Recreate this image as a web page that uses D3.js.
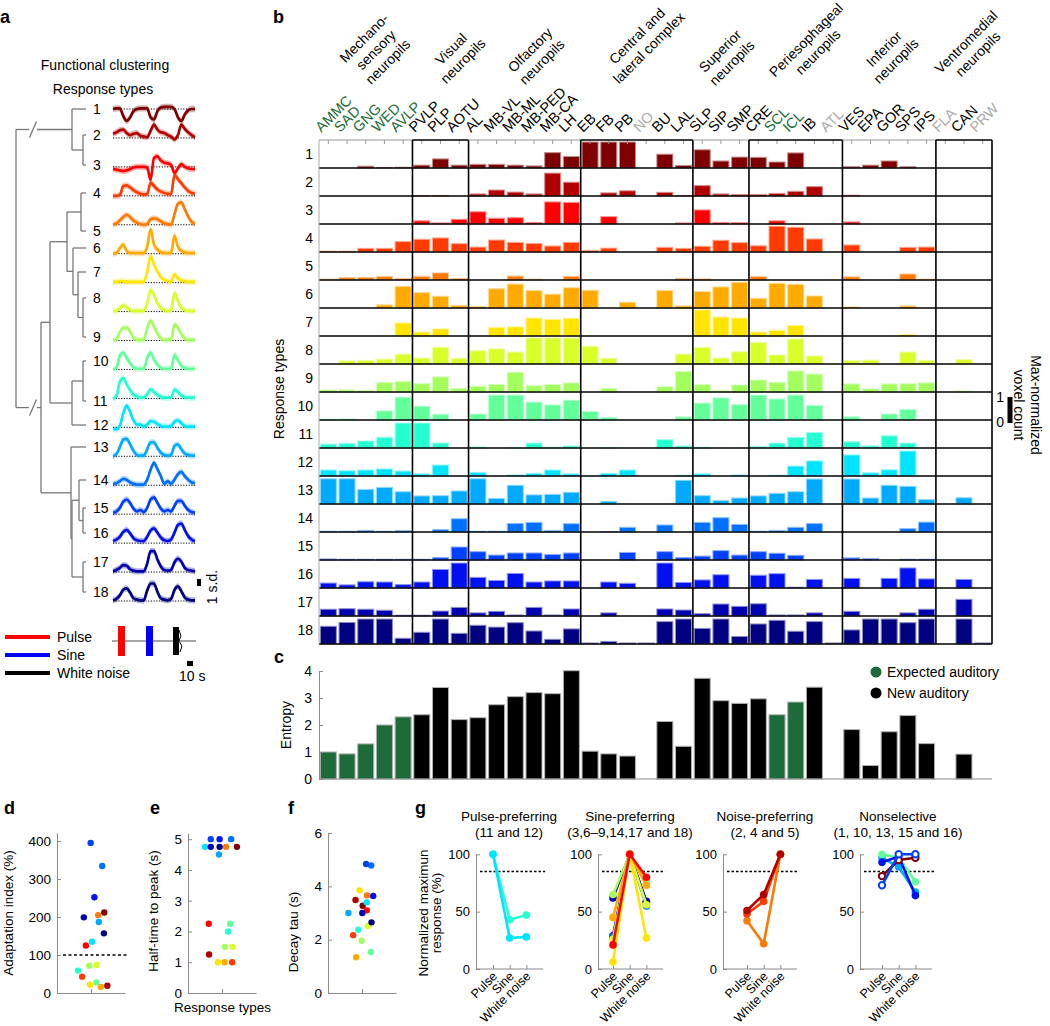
<!DOCTYPE html>
<html><head><meta charset="utf-8">
<script src="https://cdn.jsdelivr.net/npm/d3@7"></script>
<style>body{margin:0;background:#fff} svg text{font-family:"Liberation Sans",Arial,sans-serif}</style>
</head><body><svg id="chart" width="1050" height="1026"></svg>
<script>
// ================= DATA =================
const regions = ["AMMC","SAD","GNG","WED","AVLP","PVLP","PLP","AOTU","AL","MB-VL","MB-ML","MB-PED","MB-CA","LH","EB","FB","PB","NO","BU","LAL","SLP","SIP","SMP","CRE","SCL","ICL","IB","ATL","VES","EPA","GOR","SPS","IPS","FLA","CAN","PRW"];
const groupNames = [["Mechano-","sensory","neuropils"],["Visual","neuropils"],["Olfactory","neuropils"],["Central and","lateral complex"],["Superior","neuropils"],["Periesophageal","neuropils"],["Inferior","neuropils"],["Ventromedial","neuropils"]];
const groupSizes = [5,3,6,6,3,5,5,3];
const expectedAuditory = ["AMMC","SAD","GNG","WED","AVLP","SCL","ICL"];
const greyRegions = ["NO","ATL","FLA","PRW"];
const responseTypes = d3.range(1,19);

const voxel = [
[0,0,0.07,0.02,0.03, 0.11,0.35,0.11, 0.14,0.14,0.11,0.08,0.59,0.44, 1,1,1,0,0.53,0.1, 0.7,0.27,0.42, 0.41,0.23,0.58,0,0, 0.05,0.11,0.27,0.05,0, 0,0,0],
[0,0,0,0,0, 0.02,0.02,0, 0.08,0.23,0.15,0.08,0.88,0.53, 0,0.12,0.2,0,0.14,0.02, 0.4,0.08,0.06, 0.06,0.1,0.18,0.36,0, 0.03,0,0,0,0, 0,0,0],
[0,0,0,0,0, 0.12,0.04,0.18, 0.47,0.22,0.24,0.06,0.85,0.83, 0,0.28,0,0,0,0.04, 0.54,0.06,0.05, 0,0.12,0,0,0, 0.08,0,0,0,0, 0,0,0],
[0.03,0.03,0.14,0.14,0.4, 0.49,0.54,0.32, 0.19,0.46,0.37,0.33,0.23,0.37, 0.06,0.15,0,0,0.18,0.14, 0.22,0.45,0.36, 0.24,0.99,0.95,0.5,0, 0.27,0,0,0.18,0.19, 0,0,0],
[0.03,0.09,0.1,0.13,0.06, 0.14,0.27,0.06, 0,0,0.15,0.03,0,0.14, 0,0,0,0,0,0.06, 0.04,0,0, 0.13,0,0,0,0, 0.12,0,0,0.23,0.03, 0,0,0],
[0,0,0,0.12,0.83, 0.59,0.45,0.1, 0.06,0.74,0.92,0.67,0.53,0.78, 0.68,0,0.22,0,0.67,0.08, 0.63,0.81,0.99, 0.37,0.95,0.91,0.46,0, 0.04,0,0,0.08,0, 0,0,0],
[0,0,0,0,0.5, 0.15,0.27,0, 0,0.33,0.35,0.69,0.64,0.68, 0,0,0,0,0,0, 1.0,0.73,0.69, 0.15,0.22,0.4,0,0, 0,0,0,0.06,0, 0,0,0],
[0,0.12,0.14,0.19,0.38, 0.23,0.64,0.22, 0.51,0.58,0.46,1.0,1.0,1.0, 0.68,0.22,0,0,0,0.38, 0.64,0.23,0.47, 0.83,0.35,0.96,0.31,0, 0.13,0.15,0,0.46,0.14, 0,0.17,0],
[0.08,0.08,0.06,0.37,0.41, 0.32,0.58,0.14, 0.22,0.29,0.76,0.24,0.29,0.35, 0,0.13,0,0,0.2,0.79, 0.28,0.05,0.27, 0.46,0.37,0.81,0.69,0, 0.31,0.12,0.31,0.32,0.35, 0,0.04,0],
[0.03,0.04,0,0.35,0.88, 0.53,0.22,0, 0.23,0.96,0.96,0.69,0.58,0.76, 0.33,0.1,0,0,0,0.12, 0.65,0.85,0.59, 0.96,0.81,0.96,0.56,0, 0.12,0,0.23,0.41,0, 0,0,0],
[0.15,0.18,0.27,0.41,0.96, 0.96,0.19,0, 0.04,0,0.01,0.19,0.03,0.08, 0,0.01,0,0,0.32,0.08, 0.03,0,0, 0.06,0.19,0.41,0.6,0, 0.24,0.08,0.47,0.19,0, 0,0,0],
[0.23,0.2,0.23,0.27,0.19, 0.08,0.42,0, 0.14,0,0.04,0.1,0.23,0.08, 0,0.1,0.23,0,0,0.03, 0.08,0,0.04, 0,0.03,0.38,0.58,0, 0.81,0.12,0.24,0.96,0, 0,0,0],
[0.97,0.97,0.56,0.64,0.47, 0.31,0.32,0.5, 0.97,0.21,0.72,0.35,0.37,0.45, 0,0.1,0,0,0,0.91, 0.32,0.13,0.23, 0.31,0.41,0.47,0.96,0, 0.96,0.23,0.72,0.68,0.17, 0,0.24,0],
[0.03,0.03,0.06,0.03,0.05, 0,0.09,0.51, 0.03,0.03,0.33,0.37,0.06,0.32, 0,0.01,0.18,0,0.27,0, 0.37,0.55,0.29, 0.03,0.06,0.18,0.33,0, 0,0,0,0.13,0.38, 0,0,0],
[0.04,0.03,0.03,0.03,0.03, 0.03,0.09,0.5, 0.32,0.19,0.27,0.27,0.21,0.27, 0,0,0.29,0,0.32,0.09, 0.15,0.36,0.19, 0.32,0.26,0.18,0,0, 0.08,0.05,0,0.03,0.03, 0,0,0],
[0.19,0.12,0.24,0.23,0.13, 0.23,0.71,0.96, 0.41,0.29,0.56,0.23,0.27,0.27, 0,0.23,0.18,0,0.96,0.21, 0.31,0.51,0, 0.49,0.55,0.03,0.33,0, 0.37,0,0.37,0.77,0.35, 0,0.33,0],
[0.26,0.28,0.26,0.22,0.03, 0.03,0.19,0.33, 0.12,0.18,0.04,0.33,0.04,0.27, 0,0.12,0,0,0.27,0.23, 0.09,0.46,0.37, 0.47,0.04,0.04,0.12,0, 0.18,0,0,0.12,0.26, 0,0.64,0],
[0.68,0.83,0.96,0.96,0.22, 0.45,0.96,0.41, 0.72,0.65,0.82,0.5,0.18,0.58, 0.04,0.1,0.04,0.04,0.86,0.96, 0.6,0.96,0.29, 0.77,0.91,0.49,0.86,0.04, 0.54,0.96,0.96,0.82,0.96, 0,0.96,0.04]
];

const entropy = [1.0,0.93,1.3,2.0,2.3, 2.38,3.39,2.2, 2.27,2.75,3.05,3.2,3.16,4.01, 1.03,0.93,0.85,0,2.13,1.21, 3.73,2.9,2.8, 2.97,2.38,2.85,3.4,0, 1.83,0.5,1.75,2.35,1.31, 0,0.92,0];
const entropyTicks = [0,1,2,3,4];

// mean responses (s.d.) sampled across the stimulus sequence (pulse, sine, white noise)
const traces = [
[0,0.1,0.1,-1.0,-1.7,-1.2,-0.3,0,0.1,0.1,0.1,-1.2,-1.5,-0.3,0.2,0.3,0.3,0.3,0,-1.2,-1.7,-0.8,-0.2,0,0],
[0.6,0.8,1.1,1.2,0.7,0.4,0.6,0.7,0.3,0.2,0.1,1.0,1.9,1.2,0.8,0.7,0.4,0.2,-0.2,0.4,1.9,1.3,0.8,0.4,0.1],
[-0.3,-0.4,-0.5,-0.6,-0.5,-0.3,-0.1,0,0,0,-0.1,-1.9,1.3,1.5,0.9,0.6,0.5,0.3,-0.9,-0.2,0.4,0,-0.2,-0.3,-0.3],
[0,0,0.1,1.4,1.5,1.2,0.8,0.5,0.3,0.2,0.2,1.9,1.4,0.9,0.6,0.4,0.3,0.2,3.0,2.4,1.8,1.2,0.7,0.4,0.3],
[0,0.2,0.6,1.1,1.4,1.1,0.6,0.3,0.1,0,0.1,0.8,0.9,0.8,0.5,0.2,0.1,0,1.5,3.0,3.2,2.2,1.2,0.4,0.1],
[0,0.1,0.8,1.3,0.4,0.1,0.1,0.1,0.1,0.1,1.0,3.5,1.3,0.6,0.2,0.1,0.1,0.1,2.6,1.0,0.4,0.2,0.1,0.1,0.1],
[0.1,0.1,0.2,0.2,0.1,0.1,0.1,0.1,0.1,0.1,1.5,3.8,2.6,1.6,0.8,0.4,0.2,0.1,1.2,0.6,0.3,0.2,0.1,0.1,0.1],
[0.1,0.1,0.5,0.9,0.6,0.2,0.1,0.1,0.1,0.1,1.2,3.1,2.4,1.2,0.5,0.2,0.1,0.1,2.7,1.5,0.5,0.2,0.1,0.1,0.1],
[0,0.2,1.2,1.8,1.8,1.3,0.4,0.1,0.1,0.1,1.8,2.8,2.0,1.0,0.3,0.1,0.1,0.1,2.3,1.8,0.9,0.3,0.1,0.1,0.1],
[0,0.2,2.0,2.4,1.6,0.9,0.3,0.1,0.1,0.1,1.6,2.4,1.4,0.7,0.2,0.1,0.1,0.1,2.1,1.3,0.5,0.2,0.1,0.1,0.1],
[0,0.3,2.4,2.9,2.0,1.2,0.5,0.3,0.1,0.1,0.6,1.3,0.9,0.5,0.2,0.1,0.1,0.1,1.3,0.9,0.4,0.2,0.1,0.1,0.1],
[-0.2,-0.3,0.2,2.0,3.1,2.2,1.0,0.4,0.4,0.1,0.4,0.9,0.8,0.5,0.2,0.1,0.1,0.2,0.8,1.0,0.6,0.2,0.1,0.1,0.1],
[0,0.3,1.3,2.4,2.5,1.7,0.8,0.2,0.1,0.1,1.0,2.0,2.0,1.2,0.5,0.2,0.1,0.2,1.5,1.7,1.0,0.4,0.2,0.1,0.1],
[0.2,0.3,0.6,0.9,0.8,0.4,0.2,0.1,0.1,0.1,0.8,2.2,3.2,2.3,1.3,0.2,0.6,0.2,0.8,1.6,1.9,1.3,0.8,0.4,0.3],
[0.2,0.4,0.9,1.8,2.1,1.6,0.8,0.4,0.6,0.3,0.9,2.1,2.4,1.6,0.8,0.4,0.6,0.4,1.2,1.9,1.9,1.2,0.6,0.3,0.2],
[0.3,0.5,0.9,1.6,1.9,1.4,0.7,0.4,0.3,0.3,0.9,1.8,2.1,1.5,0.8,0.4,0.3,0.5,1.5,2.6,2.8,1.9,1.0,0.5,0.3],
[0.1,0.3,0.6,1.0,0.9,0.4,0.2,0.1,0.1,0.1,1.2,3.0,3.0,1.8,0.8,0.3,0.2,0.3,1.4,1.9,1.5,0.6,0.3,0.2,0.1],
[0.1,0.3,0.8,1.6,1.8,1.2,0.4,0.2,0.1,0.1,1.5,2.5,2.5,1.3,0.4,0.2,0.1,0.3,1.6,2.1,1.4,0.5,0.2,0.1,0.1]
];

// dendrogram linkage: [childA, childB, height]; positive = leaf (response type), negative = earlier merge
const linkage = [[2,3,3],[1,-1,14],[4,5,5],[8,9,3],[7,-4,8],[6,-5,13],[-3,-6,19],[10,11,3],[-8,12,14],[-7,-9,36],[15,16,3],[14,-11,7],[17,18,3],[-12,-13,14],[13,-14,15],[-10,-15,45],[-2,-16,70]];

const adaptation = [212,19,125,43,205,16,22,74,72,28,59,135,187,334,395,252,199,157];
const adaptJitter = [0.39,0.48,-0.15,-0.26,0.21,0.29,-0.03,0.17,-0.05,0.16,-0.38,0.03,0.23,0.33,-0.01,0.10,-0.21,0.38];
const adaptTicks = [0,100,200,300,400];
const halfTime = [4.75,1.25,2.25,1.0,4.75,1.0,1.0,1.5,1.5,2.25,2.0,4.75,4.5,5.0,5.0,5.0,4.75,4.75];
const halfJitter = [0.44,-0.38,-0.39,0.30,0.12,0.08,-0.12,0.31,0.08,0.24,0.18,-0.50,-0.09,0.27,-0.33,-0.07,-0.33,-0.07];
const halfTicks = [0,1,2,3,4,5];
const decayTau = [3.27,3.49,3.1,2.17,3.66,1.34,3.85,2.51,1.96,1.54,2.37,3.4,3.0,4.78,4.84,3.64,3.0,2.65];
const decayJitter = [0.02,-0.19,0.14,-0.26,0.15,-0.17,-0.07,0.17,-0.01,0.26,-0.11,0.14,-0.40,0.27,0.12,0.33,0.01,0.28];
const decayTicks = [0,2,4,6];

const stimuli = ["Pulse","Sine","White noise"];
const gTitles = ["Pulse-preferring","Sine-preferring","Noise-preferring","Nonselective"];
const gSubtitles = ["(11 and 12)","(3,6\u20139,14,17 and 18)","(2, 4 and 5)","(1, 10, 13, 15 and 16)"];
const gTypes = [[11,12],[18,17,14,9,8,6,7,3],[5,4,2],[13,10,16,1,15]];
const gValues = [
 [[100,43,47],[100,27,28]],
 [[29,100,58],[62,100,59],[28,100,55],[65,100,76],[26,100,56],[45,100,73],[6,100,27],[21,100,80]],
 [[42,22,100],[48,59,100],[51,65,100]],
 [[97,89,67],[100,97,76],[93,98,64],[81,95,97],[73,100,100]]
];
const gHollow = [1,15];
const gThreshold = 85;
const gTicks = [0,50,100];

// ================= STYLE =================
const typeColors = ["#7f0000","#b20000","#ff0000","#ff3a00","#ff7800","#ffaa00","#ffe400","#d8ff2a","#a2ff5e","#62ff9a","#24ffd2","#00e4ff","#00aaff","#0070ff","#0040ff","#0010ee","#0000b0","#000080"];
const GREEN = "#1d6b38", AXIS = "#8a8a8a";
const svg = d3.select("#chart");
svg.append("rect").attr("width",1050).attr("height",1026).attr("fill","#fff");

function label(parent,x,y,str,o={}){
  const t=parent.append("text").attr("x",x).attr("y",y).text(str)
    .attr("font-size",o.size||14).attr("fill",o.fill||"#000").attr("text-anchor",o.anchor||"start");
  if(o.weight) t.attr("font-weight",o.weight);
  if(o.rotate!==undefined) t.attr("transform",`rotate(${o.rotate},${x},${y})`);
  return t;
}
function multi(parent,x,y,lines,rot,lh,anchor,size){
  const t=parent.append("text").attr("transform",`translate(${x},${y}) rotate(${rot})`)
    .attr("text-anchor",anchor).attr("font-size",size).attr("fill","#000");
  lines.forEach((l,i)=>t.append("tspan").attr("x",0).attr("dy",i===0?"0.35em":lh).text(l));
  return t;
}
function styleAxis(g,size){
  g.attr("font-family",null);
  g.select(".domain").attr("stroke",AXIS);
  g.selectAll(".tick line").attr("stroke",AXIS);
  g.selectAll(".tick text").attr("font-size",size||14).attr("fill","#000");
}

// panel letters
[["a",0,23],["b",273,23],["c",274,663],["d",4,814],["e",150,814],["f",288,814],["g",415,814]].forEach(p=>
  label(svg,p[1],p[2],p[0],{size:18,weight:"bold"}));

// ================= PANEL A =================
const pa = svg.append("g");
label(pa,105,70,"Functional clustering",{anchor:"middle"});
label(pa,103,94,"Response types",{anchor:"middle"});
const leafY = [109,135,165,193,231,248,272,298,337,361,401,425,447,480,508,533,562,592];
const xd = d3.scaleLinear().domain([0,70]).range([86,16]);
const nodes=[];
const pos = r => r>0 ? {x:xd(0),y:leafY[r-1]} : nodes[-r-1];
const dg = pa.append("g").attr("stroke","#777").attr("stroke-width",1.3).attr("fill","none");
linkage.forEach((m,i)=>{
  const a=pos(m[0]), b=pos(m[1]), x=xd(m[2]);
  nodes.push({x:x,y:(a.y+b.y)/2});
  dg.append("line").attr("x1",x).attr("x2",x).attr("y1",a.y).attr("y2",b.y);
  if(i<linkage.length-1){
    dg.append("line").attr("x1",x).attr("x2",a.x).attr("y1",a.y).attr("y2",a.y);
    dg.append("line").attr("x1",x).attr("x2",b.x).attr("y1",b.y).attr("y2",b.y);
  } else {
    [a,b].forEach(c=>{
      dg.append("line").attr("x1",x).attr("x2",29).attr("y1",c.y).attr("y2",c.y);
      dg.append("line").attr("x1",37).attr("x2",c.x).attr("y1",c.y).attr("y2",c.y);
      dg.append("line").attr("x1",29.5).attr("x2",36.5).attr("y1",c.y+8).attr("y2",c.y-8);
    });
  }
});
responseTypes.forEach((t,i)=>label(pa,93,leafY[i]+5,String(t)));

const xt = d3.scaleLinear().domain([0,24]).range([113,195]);
const sdPx = 7;
const traceBase = d3.scaleLinear().domain([1,18]).range([109,601]);
traces.forEach((tr,i)=>{
  const base=traceBase(i+1), col=typeColors[i];
  const yv=v=>base - v*sdPx;
  const area=d3.area().x((d,j)=>xt(j)).y0(d=>yv(d-0.45)).y1(d=>yv(d+0.45)).curve(d3.curveMonotoneX);
  pa.append("path").attr("d",area(tr)).attr("fill",col).attr("opacity",0.3);
  pa.append("line").attr("x1",113).attr("x2",195).attr("y1",base).attr("y2",base)
    .attr("stroke","#000").attr("stroke-width",1).attr("stroke-dasharray","1.2,1.5");
  const line=d3.line().x((d,j)=>xt(j)).y(yv).curve(d3.curveMonotoneX);
  pa.append("path").attr("d",line(tr)).attr("fill","none").attr("stroke",col).attr("stroke-width",2.7);
});
pa.append("rect").attr("x",197).attr("y",579).attr("width",4).attr("height",sdPx).attr("fill","#000");
label(pa,217,587,"1 s.d.",{anchor:"middle",rotate:-90});
const stimCols=["#ff0000","#0000ff","#000000"];
stimuli.forEach((s,i)=>{
  const y=637+i*18;
  pa.append("line").attr("x1",5).attr("x2",50).attr("y1",y).attr("y2",y).attr("stroke",stimCols[i]).attr("stroke-width",4);
  label(pa,57,y+5,s);
});
pa.append("line").attr("x1",112).attr("x2",196).attr("y1",641).attr("y2",641).attr("stroke","#888").attr("stroke-width",1.5);
pa.append("rect").attr("x",118).attr("y",626).attr("width",7).attr("height",30).attr("fill","#ff0000");
pa.append("rect").attr("x",146).attr("y",626).attr("width",7).attr("height",30).attr("fill","#0000ff");
pa.append("rect").attr("x",173).attr("y",627).attr("width",6).attr("height",28).attr("fill","#000");
pa.append("path").attr("d","M179,630 L181,636 L179,641 L182,646 L180,652").attr("stroke","#000").attr("fill","none");
pa.append("rect").attr("x",187).attr("y",661).attr("width",6).attr("height",5).attr("fill","#000");
label(pa,179,681,"10 s");

// ================= PANEL B =================
const pb = svg.append("g");
const bLeft=319,bRight=992,bTop=140,rowH=28;
const xb = d3.scaleBand().domain(regions).range([bLeft,bRight]).paddingInner(0.144).paddingOuter(0.072);
const step = xb.step();
const hb = d3.scaleLinear().domain([0,1]).range([0,26]);
const rowBase = d3.scaleLinear().domain([0,18]).range([bTop,bTop+18*rowH]);
const colEdge = i=>bLeft+i*step;
const lighten = c=>d3.interpolateRgb(c,"#ffffff")(0.55);

voxel.forEach((row,r)=>{
  const base=rowBase(r+1), col=typeColors[r];
  pb.append("g").selectAll("rect").data(row.map((v,j)=>({v,reg:regions[j]})).filter(d=>d.v>0)).join("rect")
    .attr("x",d=>xb(d.reg)).attr("width",xb.bandwidth())
    .attr("y",d=>base-hb(d.v)).attr("height",d=>hb(d.v))
    .attr("fill",col).attr("stroke",lighten(col)).attr("stroke-width",1);
  pb.append("line").attr("x1",bLeft).attr("x2",bRight).attr("y1",base).attr("y2",base).attr("stroke","#000").attr("stroke-width",1.6);
  label(pb,313,base-rowH/2+5,String(r+1),{anchor:"end"});
});
pb.append("g").selectAll("line").data(regions).join("line")
  .attr("x1",d=>xb(d)+xb.bandwidth()/2).attr("x2",d=>xb(d)+xb.bandwidth()/2)
  .attr("y1",bTop).attr("y2",bTop+4).attr("stroke","#999").attr("stroke-width",1);
pb.append("line").attr("x1",bLeft).attr("x2",bLeft).attr("y1",bTop).attr("y2",rowBase(18)).attr("stroke","#aaa");
let start=0;
groupSizes.forEach((n,gi)=>{
  const x0=colEdge(start), x1=colEdge(start+n);
  const boxed = gi%2===1;
  pb.append("line").attr("x1",x0).attr("x2",x1).attr("y1",bTop).attr("y2",bTop)
    .attr("stroke",boxed?"#000":"#999").attr("stroke-width",boxed?1.6:1.2);
  if(boxed){
    [x0,x1].forEach(x=>pb.append("line").attr("x1",x).attr("x2",x).attr("y1",bTop).attr("y2",rowBase(18))
      .attr("stroke","#000").attr("stroke-width",1.6));
  }
  start+=n;
});
// column labels, rotated 45 degrees
regions.forEach(r=>{
  const cx=xb(r)+xb.bandwidth()/2;
  const fill = expectedAuditory.includes(r)?GREEN:(greyRegions.includes(r)?"#aaaaaa":"#000");
  label(pb,cx-7,133,r,{size:14.5,fill,rotate:-45});
});
// group labels (first-line centres), rotated 45 degrees
const groupAnchors=[[364,38],[451,49],[530,50],[637,36],[720,51],[806,40],[884,49],[966,42]];
groupNames.forEach((g,i)=>multi(pb,groupAnchors[i][0],groupAnchors[i][1],g,-45,"1.2em","middle",14));
label(pb,284,389,"Response types",{anchor:"middle",rotate:-90});
pb.append("rect").attr("x",1007.5).attr("y",423-hb(1)).attr("width",5).attr("height",hb(1)).attr("fill","#000");
label(pb,1004,402,"1",{anchor:"end"});
label(pb,1004,427,"0",{anchor:"end"});
multi(pb,1036,405,["Max-normalized","voxel count"],90,"1.2em","middle",14);

// ================= PANEL C =================
const pc = svg.append("g");
const yc = d3.scaleLinear().domain([0,4]).range([779,671]);
pc.selectAll("rect").data(regions.map((r,i)=>({r,v:entropy[i]})).filter(d=>d.v>0)).join("rect")
  .attr("x",d=>xb(d.r)).attr("width",xb.bandwidth()).attr("y",d=>yc(d.v)).attr("height",d=>yc(0)-yc(d.v))
  .attr("fill",d=>expectedAuditory.includes(d.r)?GREEN:"#000").attr("stroke","#b0b0b0").attr("stroke-width",1);
pc.append("line").attr("x1",bLeft).attr("x2",bRight).attr("y1",yc(0)).attr("y2",yc(0)).attr("stroke",AXIS).attr("stroke-width",1.2);
const acy = pc.append("g").attr("transform",`translate(${bLeft},0)`)
  .call(d3.axisLeft(yc).tickValues(entropyTicks).tickSize(-4).tickSizeOuter(0).tickPadding(7).tickFormat(d3.format("d")));
styleAxis(acy);
label(pc,291,725,"Entropy",{anchor:"middle",rotate:-90});
pc.append("circle").attr("cx",876).attr("cy",672).attr("r",5.5).attr("fill",GREEN);
label(pc,887,677,"Expected auditory");
pc.append("circle").attr("cx",876).attr("cy",693).attr("r",5.5).attr("fill","#000");
label(pc,887,698,"New auditory");

// ================= PANELS D, E, F =================
function scatter(axisX, domainMax, ticks, values, jitter, ylabel, labelX, labelY){
  const g=svg.append("g");
  const y=d3.scaleLinear().domain([0,domainMax]).range([993,833]);
  const x=d3.scaleLinear().domain([-1,1]).range([axisX,axisX+68]);
  const ay=g.append("g").attr("transform",`translate(${axisX},0)`)
    .call(d3.axisLeft(y).tickValues(ticks).tickSize(-4).tickSizeOuter(0).tickPadding(6).tickFormat(d3.format("d")));
  styleAxis(ay,13.5);
  const ax=g.append("g").attr("transform",`translate(0,993)`)
    .call(d3.axisBottom(x).tickValues([0]).tickSize(-4).tickSizeOuter(0).tickFormat(""));
  styleAxis(ax);
  g.selectAll("circle").data(values.map((v,i)=>({v,j:jitter[i],c:typeColors[i]}))).join("circle")
    .attr("cx",d=>x(d.j)).attr("cy",d=>y(d.v)).attr("r",3.2).attr("fill",d=>d.c);
  label(g,labelX,labelY,ylabel,{anchor:"middle",rotate:-90,size:13.5});
  return {g,x,y};
}
const pd = scatter(57, 421, adaptTicks, adaptation, adaptJitter, "Adaptation index (%)", 13, 913);
pd.g.append("line").attr("x1",63).attr("x2",127).attr("y1",pd.y(100)).attr("y2",pd.y(100))
  .attr("stroke","#000").attr("stroke-width",1.3).attr("stroke-dasharray","3,2.5");
const pe = scatter(188, 5.2, halfTicks, halfTime, halfJitter, "Half-time to peak (s)", 158, 911);
label(pe.g,222.5,1012,"Response types",{anchor:"middle",size:13.5});
scatter(328, 6, decayTicks, decayTau, decayJitter, "Decay tau (s)", 298, 932);

// ================= PANEL G =================
const pg = svg.append("g");
const yg = d3.scaleLinear().domain([0,100]).range([969,854.3]);
const gAxisX=[476,598,723,860], gCat0=[493,613,747,882], gSpace=16.7, gCenters=[509,630,765,898];
multi(pg,423,913,["Normalized maximun","response (%)"],-90,"1.0em","middle",13.5);
gTitles.forEach((t,k)=>{
  const g=pg.append("g");
  const x=d3.scalePoint().domain(stimuli).range([gCat0[k],gCat0[k]+2*gSpace]);
  const axEnd=gCat0[k]+3*gSpace;
  const ay=g.append("g").attr("transform",`translate(${gAxisX[k]},0)`)
    .call(d3.axisLeft(yg).tickValues(gTicks).tickSize(-4).tickSizeOuter(0).tickPadding(6));
  styleAxis(ay,13);
  g.append("line").attr("x1",gAxisX[k]).attr("x2",axEnd).attr("y1",yg(0)).attr("y2",yg(0)).attr("stroke",AXIS).attr("stroke-width",1.2);
  const ax=g.append("g").attr("transform",`translate(0,${yg(0)})`)
    .call(d3.axisBottom(x).tickSize(-4).tickSizeOuter(0).tickFormat(""));
  ax.select(".domain").remove();
  styleAxis(ax);
  stimuli.forEach(s=>label(g,x(s)+5,yg(0)+8,s,{anchor:"end",rotate:-45,size:12.5}));
  g.append("line").attr("x1",gAxisX[k]+4).attr("x2",axEnd+2).attr("y1",yg(gThreshold)).attr("y2",yg(gThreshold))
    .attr("stroke","#000").attr("stroke-width",1.3).attr("stroke-dasharray","2.5,2");
  label(g,gCenters[k],821,t,{anchor:"middle",size:13.5});
  label(g,gCenters[k],837,gSubtitles[k],{anchor:"middle",size:13.5});
  const line=d3.line().x((d,i)=>x(stimuli[i])).y(d=>yg(d));
  gTypes[k].forEach((tp,i)=>{
    const col=typeColors[tp-1], vals=gValues[k][i], hollow=gHollow.includes(tp)&&k===3;
    g.append("path").attr("d",line(vals)).attr("fill","none").attr("stroke",col).attr("stroke-width",2.6);
    g.selectAll(null).data(vals).join("circle").attr("cx",(d,j)=>x(stimuli[j])).attr("cy",d=>yg(d))
      .attr("r",hollow?3.2:3.8).attr("fill",hollow?"#fff":col).attr("stroke",col).attr("stroke-width",hollow?2:0);
  });
});
</script></body></html>
